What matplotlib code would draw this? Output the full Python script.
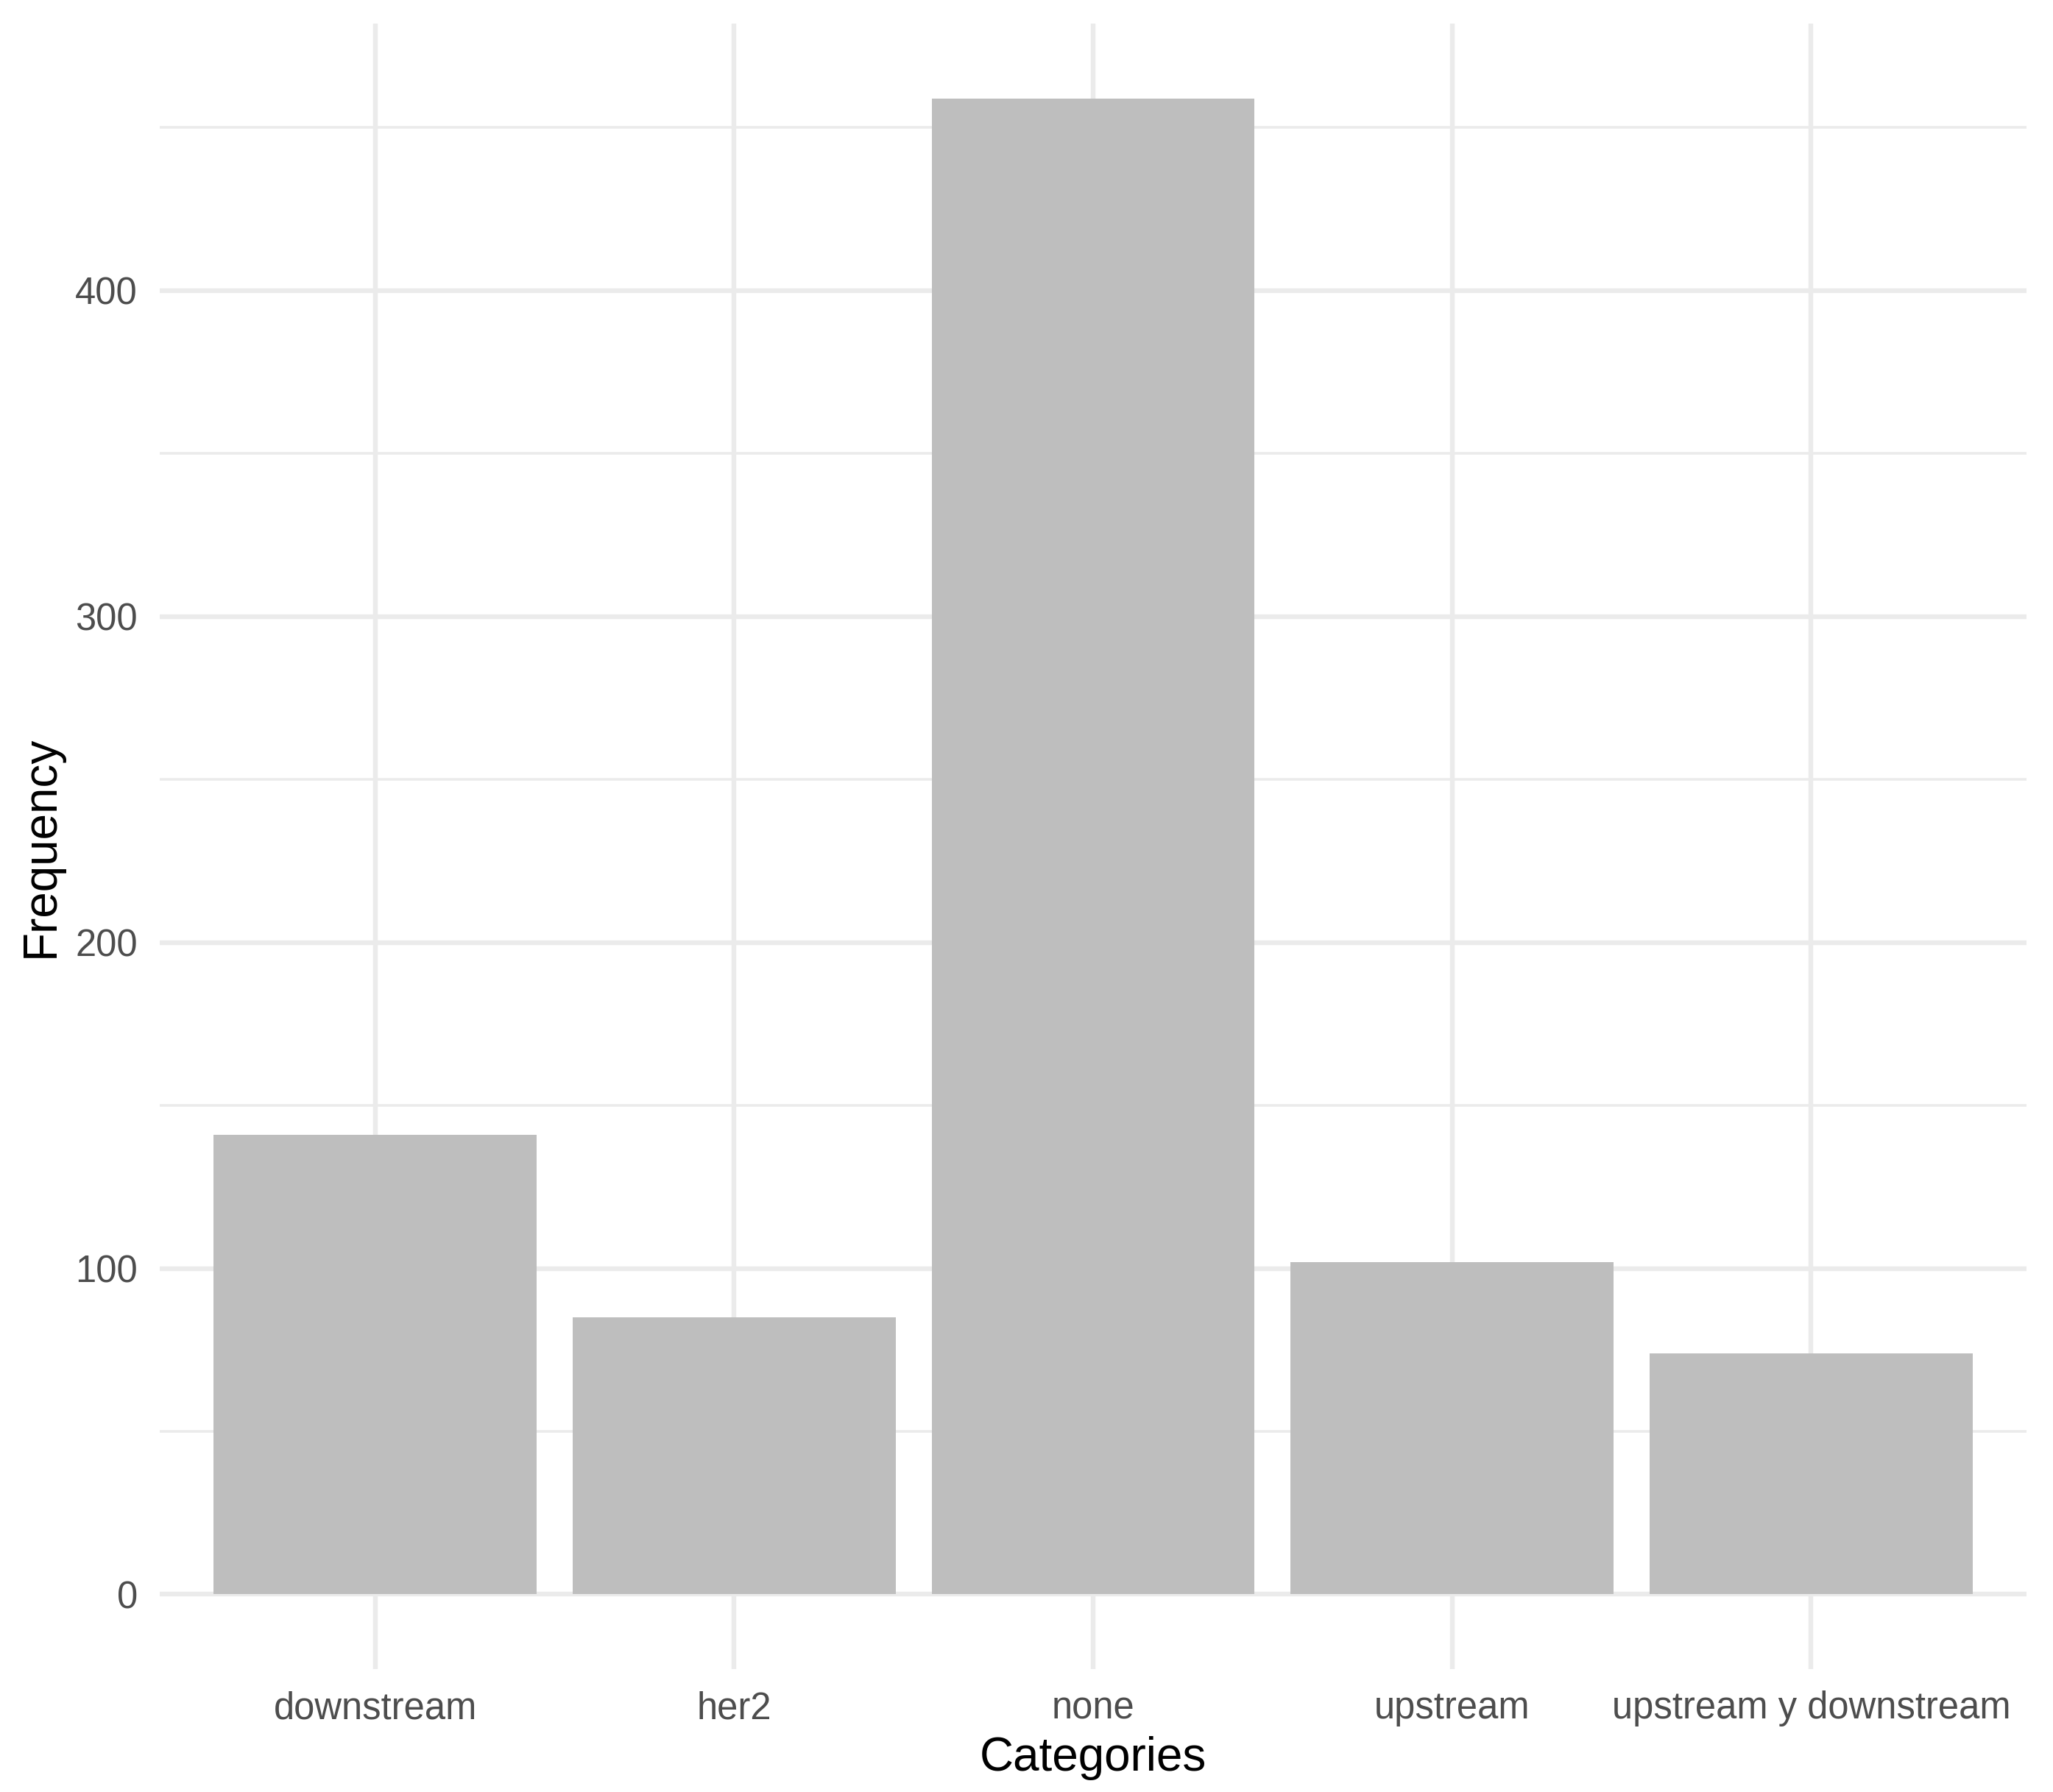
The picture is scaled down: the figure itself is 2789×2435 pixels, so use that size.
import matplotlib
matplotlib.use("Agg")
import matplotlib.pyplot as plt
import numpy as np

# bar chart data
categories = ["downstream", "her2", "none", "upstream", "upstream y downstream"]
counts = [141, 85, 459, 102, 74]
y_major = [0, 100, 200, 300, 400]
y_minor = [50, 150, 250, 350, 450]

plt.rcParams["font.family"] = ["Liberation Sans", "DejaVu Sans"]

W, H, DPI = 2789, 2435, 300
fig = plt.figure(figsize=(W / DPI, H / DPI), dpi=DPI)
ax = fig.add_axes([217 / W, 1 - 2268 / H, (2753 - 217) / W, (2268 - 32) / H])

x = np.arange(1, len(categories) + 1)
ax.bar(x, counts, width=0.9, color="#BEBEBE", zorder=2)

# ggplot-style expansion: 5% on y, 0.6 units on the discrete x
ymax = max(counts)
ax.set_ylim(-0.05 * ymax, 1.05 * ymax)
ax.set_xlim(0.4, len(categories) + 0.6)

grid = "#EBEBEB"
ax.set_xticks(x)
ax.set_xticklabels(categories)
ax.set_yticks(y_major)
ax.set_yticks(y_minor, minor=True)
ax.grid(True, which="major", axis="both", color=grid, linewidth=1.55, zorder=0)
ax.grid(True, which="minor", axis="y", color=grid, linewidth=0.85, zorder=0)
ax.set_axisbelow(True)

for s in ax.spines.values():
  s.set_visible(False)

ax.tick_params(axis="both", which="both", length=0, labelsize=12.2, labelcolor="#4D4D4D")
ax.tick_params(axis="x", pad=7)
ax.tick_params(axis="y", pad=7.2)

ax.set_xlabel("Categories", fontsize=15.3, color="black", labelpad=3)
ax.set_ylabel("Frequency", fontsize=15.3, color="black", labelpad=4)

fig.savefig("out.png", dpi=DPI, facecolor="white")
